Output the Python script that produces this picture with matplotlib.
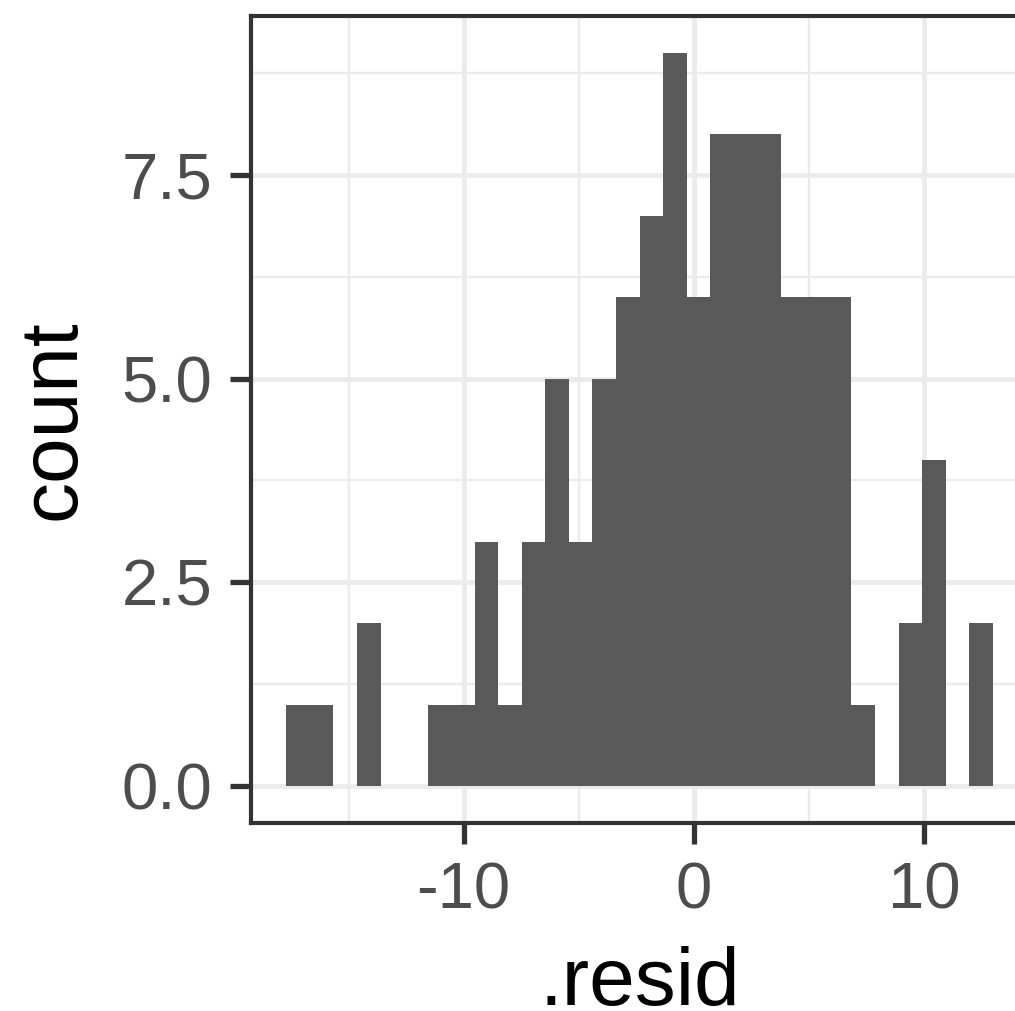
import numpy as np
import matplotlib
matplotlib.use("Agg")
import matplotlib.pyplot as plt
from matplotlib.ticker import FixedLocator

# Histogram of residuals: 30 bins
bin_start = -17.70
bin_width = 1.0222
counts = [1, 1, 0, 2, 0, 0, 1, 1, 3, 1,
          3, 5, 3, 5, 6, 7, 9, 6, 8, 8,
          8, 6, 6, 6, 1, 0, 2, 4, 0, 2]

x_major = [-10, 0, 10]
x_minor = [-15, -5, 5, 15]
y_major = [0.0, 2.5, 5.0, 7.5]
y_minor = [1.25, 3.75, 6.25, 8.75]
y_labels = ["0.0", "2.5", "5.0", "7.5"]

plt.rcParams["font.family"] = ["Liberation Sans", "DejaVu Sans"]

W, H = 1015, 1011
fig = plt.figure(figsize=(W / 100, H / 100), dpi=100)
left_px, right_px, top_px, bottom_px = 251, 1028, 16, 822.7
ax = fig.add_axes([left_px / W, 1 - bottom_px / H,
                   (right_px - left_px) / W, (bottom_px - top_px) / H])

edges = bin_start + bin_width * np.arange(len(counts) + 1)
ax.bar(edges[:-1], counts, width=bin_width, align="edge",
       color="#595959", linewidth=0, zorder=3)

lo, hi = edges[0], edges[-1]
pad_x = 0.05 * (hi - lo)
ax.set_xlim(lo - pad_x, hi + pad_x)
ymax = max(counts)
ax.set_ylim(-0.05 * ymax, 1.05 * ymax)

ax.xaxis.set_major_locator(FixedLocator(x_major))
ax.xaxis.set_minor_locator(FixedLocator(x_minor))
ax.yaxis.set_major_locator(FixedLocator(y_major))
ax.yaxis.set_minor_locator(FixedLocator(y_minor))
ax.set_xticklabels([str(v) for v in x_major])
ax.set_yticklabels(y_labels)

ax.grid(which="major", color="#EBEBEB", linewidth=3.4, zorder=0)
ax.grid(which="minor", color="#EBEBEB", linewidth=1.7, zorder=0)
ax.set_axisbelow(True)

ax.tick_params(which="major", length=15, width=3.8, color="#333333",
               labelsize=47, labelcolor="#4D4D4D", pad=13)
ax.tick_params(which="minor", length=0)

for s in ax.spines.values():
    s.set_color("#333333")
    s.set_linewidth(3.0)
    s.set_zorder(5)

ax.set_xlabel(".resid", fontsize=59, color="black")
ax.set_ylabel("count", fontsize=59, color="black")
ax.xaxis.label.set_va("baseline")
ax.xaxis.set_label_coords(0.5, (6 - (H - bottom_px)) / (bottom_px - top_px))
ax.yaxis.label.set_va("center")
ax.yaxis.set_label_coords((53.7 - left_px) / (right_px - left_px), 0.5)

fig.savefig("out.png", dpi=100, facecolor="white")
